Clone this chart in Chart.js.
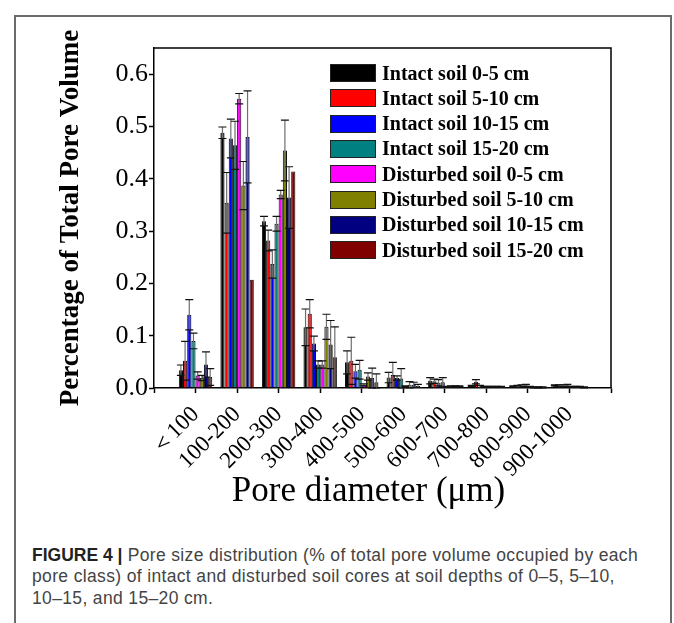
<!DOCTYPE html>
<html>
<head>
<meta charset="utf-8">
<script src="https://cdn.jsdelivr.net/npm/chart.js@4.4.0/dist/chart.umd.min.js"></script>
<style>
  html, body { margin: 0; padding: 0; background: #fff; }
  body { width: 674px; height: 623px; position: relative; overflow: hidden; }
  #frame { position: absolute; left: 14px; top: 15px; width: 654px; height: 700px;
           border: 2px solid #6b6b6b; border-bottom: none; }
  #grafico { position: absolute; left: 0; top: 0; }
  #leyenda { position: absolute; left: 0; top: 0; }
  .fila { position: absolute; left: 330px; height: 18px; display: flex; align-items: center;
          font: bold 20px "Liberation Serif", "Times New Roman", serif; color: #000; white-space: nowrap; }
  .caja { width: 44px; height: 16px; border: 1px solid #222; margin-right: 6px; }
  #pie { position: absolute; left: 32px; top: 545px; font: 17.5px "Liberation Sans", Arial, sans-serif;
         letter-spacing: 0.35px; line-height: 21.4px; color: #444; white-space: nowrap; }
  #pie b { color: #222; letter-spacing: 0; }
</style>
</head>
<body>
<div id="frame"></div>
<canvas id="grafico" width="674" height="520"></canvas>
<div id="leyenda"></div>
<div id="pie"><b>FIGURE 4 |</b> Pore size distribution (% of total pore volume occupied by each<br>pore class) of intact and disturbed soil cores at soil depths of 0–5, 5–10,<br>10–15, and 15–20 cm.</div>
<script>
// Clases de poro (los extremos vacíos dejan el margen del eje)
const categorias = ['', '＜100', '100-200', '200-300', '300-400', '400-500', '500-600', '600-700', '700-800', '800-900', '900-1000', ''];

const series = ['Intact soil 0-5 cm', 'Intact soil 5-10 cm', 'Intact soil 10-15 cm', 'Intact soil 15-20 cm',
                'Disturbed soil 0-5 cm', 'Disturbed soil 5-10 cm', 'Disturbed soil 10-15 cm', 'Disturbed soil 15-20 cm'];
const colores = ['#000000', '#ff0000', '#0000ff', '#008080', '#ff00ff', '#808000', '#000080', '#800000'];

// valores
const intacto0_5   = [0.034, 0.488, 0.319, 0.116, 0.049, 0.020, 0.014, 0.004, 0.003, 0.005];
const intacto5_10  = [0.052, 0.354, 0.282, 0.142, 0.052, 0.025, 0.013, 0.012, 0.003, 0.004];
const intacto10_15 = [0.140, 0.477, 0.237, 0.085, 0.032, 0.019, 0.010, 0.003, 0.004, 0.004];
const intacto15_20 = [0.090, 0.464, 0.314, 0.045, 0.035, 0.018, 0.011, 0.002, 0.005, 0.005];
const alterado0_5   = [0.024, 0.553, 0.370, 0.045, 0.006, 0.003, 0.002, 0.002, 0.002, 0.002];
const alterado5_10  = [0.019, 0.387, 0.454, 0.117, 0.022, 0.006, 0.003, 0.002, 0.001, 0.002];
const alterado10_15 = [0.045, 0.480, 0.364, 0.083, 0.019, 0.006, 0.003, 0.002, 0.001, 0.002];
const alterado15_20 = [0.021, 0.207, 0.414, 0.059, 0.011, 0.004, 0.003, 0.002, 0.001, 0.001];

// barras de error (desviación)
const errIntacto0_5   = [0.010, 0.011, 0.009, 0.035, 0.022, 0.010, 0.006, 0.001, 0.001, 0.001];
const errIntacto5_10  = [0.037, 0.058, 0.020, 0.027, 0.045, 0.024, 0.004, 0.004, 0.002, 0.002];
const errIntacto10_15 = [0.029, 0.037, 0.027, 0.014, 0.013, 0.004, 0.006, 0.002, 0.002, 0.002];
const errIntacto15_20 = [0.015, 0.046, 0.014, 0.007, 0.018, 0.019, 0.009, 0.001, 0.002, 0.002];
const errAlterado0_5   = [0.007, 0.010, 0.008, 0.007, 0.002, 0.001, 0.001, 0.001, 0.001, 0.001];
const errAlterado5_10  = [0.005, 0.046, 0.058, 0.024, 0.007, 0.006, 0.001, 0.001, 0.001, 0.001];
const errAlterado10_15 = [0.024, 0.088, 0.059, 0.046, 0.019, 0.005, 0.001, 0.001, 0.001, 0.001];
const errAlterado15_20 = [0.016, 0, 0, 0.058, 0.016, 0.003, 0.001, 0.001, 0.001, 0.001];

const valores = [intacto0_5, intacto5_10, intacto10_15, intacto15_20, alterado0_5, alterado5_10, alterado10_15, alterado15_20];
const errores = [errIntacto0_5, errIntacto5_10, errIntacto10_15, errIntacto15_20, errAlterado0_5, errAlterado5_10, errAlterado10_15, errAlterado15_20];

const fuente = '"Liberation Serif", "Times New Roman", serif';
Chart.defaults.font.family = fuente;
Chart.defaults.color = '#000';

// relleno con null en las posiciones vacías de los extremos
const conBordes = arr => [null, ...arr, null];

const datasets = series.map((nombre, i) => ({
    label: nombre,
    data: conBordes(valores[i]),
    errores: conBordes(errores[i]),
    backgroundColor: colores[i],
    borderColor: '#111',
    borderWidth: 1,
    categoryPercentage: 0.805,
    barPercentage: 1.0
}));

// Barras de error, caja del área y título del eje x
const extras = {
    id: 'extras',
    afterDatasetsDraw(chart) {
        const { ctx, scales: { y } } = chart;
        ctx.save();
        chart.data.datasets.forEach((ds, i) => {
            const meta = chart.getDatasetMeta(i);
            meta.data.forEach((barra, j) => {
                const v = ds.data[j];
                const e = ds.errores[j];
                if (v == null || !e) return;
                const arriba = y.getPixelForValue(v + e);
                const abajo = y.getPixelForValue(Math.max(0, v - e));
                const x = barra.x;
                ctx.strokeStyle = '#6e6e6e';
                ctx.lineWidth = 1.2;
                ctx.beginPath();
                ctx.moveTo(x, arriba);
                ctx.lineTo(x, abajo);
                ctx.stroke();
                ctx.strokeStyle = '#111';
                ctx.lineWidth = 1.2;
                ctx.beginPath();
                ctx.moveTo(x - 4, arriba);
                ctx.lineTo(x + 4, arriba);
                ctx.moveTo(x - 4, abajo);
                ctx.lineTo(x + 4, abajo);
                ctx.stroke();
            });
        });
        ctx.restore();
    },
    afterDraw(chart) {
        const { ctx, chartArea: a } = chart;
        ctx.save();
        ctx.strokeStyle = '#000';
        ctx.lineWidth = 1.5;
        ctx.beginPath();
        ctx.moveTo(a.left, a.top);
        ctx.lineTo(a.right, a.top);
        ctx.lineTo(a.right, a.bottom);
        ctx.stroke();
        ctx.fillStyle = '#000';
        ctx.font = '35px ' + fuente;
        ctx.textAlign = 'center';
        ctx.textBaseline = 'alphabetic';
        ctx.fillText('Pore diameter (μm)', (a.left + a.right) / 2 - 14, 501);
        ctx.restore();
    }
};

const ctx = document.getElementById('grafico').getContext('2d');
const grafico = new Chart(ctx, {
    type: 'bar',
    data: { labels: categorias, datasets },
    options: {
        responsive: false,
        animation: false,
        layout: { padding: { left: 0, right: 63, top: 48, bottom: 0 } },
        plugins: { legend: { display: false }, tooltip: { enabled: false } },
        scales: {
            x: {
                offset: false,
                grid: { offset: false, drawOnChartArea: false, tickLength: 5, tickColor: '#000', tickWidth: 1.5 },
                border: { color: '#000', width: 1.5 },
                ticks: { autoSkip: false, maxRotation: 45, minRotation: 45, padding: 8,
                         font: { size: 23 }, color: '#000' },
                afterFit: scale => { scale.height = 132; }
            },
            y: {
                min: 0,
                max: 0.65,
                grid: { drawOnChartArea: false, tickLength: 5, tickColor: '#000', tickWidth: 1.5 },
                border: { color: '#000', width: 1.5 },
                ticks: { stepSize: 0.1, includeBounds: false, padding: 1, font: { size: 26 }, color: '#000',
                         callback: v => v.toFixed(1) },
                title: { display: true, text: 'Percentage of Total Pore Volume',
                         font: { size: 27, weight: 'bold' }, padding: { top: 55, bottom: 0 } },
                afterFit: scale => { scale.width = 154; }
            }
        }
    },
    plugins: [extras]
});

// Leyenda en HTML, dentro del área del gráfico
const leyenda = document.getElementById('leyenda');
grafico.data.datasets.forEach((ds, i) => {
    const fila = document.createElement('div');
    fila.className = 'fila';
    fila.style.top = (64 + i * 25.3) + 'px';
    const caja = document.createElement('span');
    caja.className = 'caja';
    caja.style.background = ds.backgroundColor;
    fila.appendChild(caja);
    fila.appendChild(document.createTextNode(ds.label));
    leyenda.appendChild(fila);
});
</script>
</body>
</html>
